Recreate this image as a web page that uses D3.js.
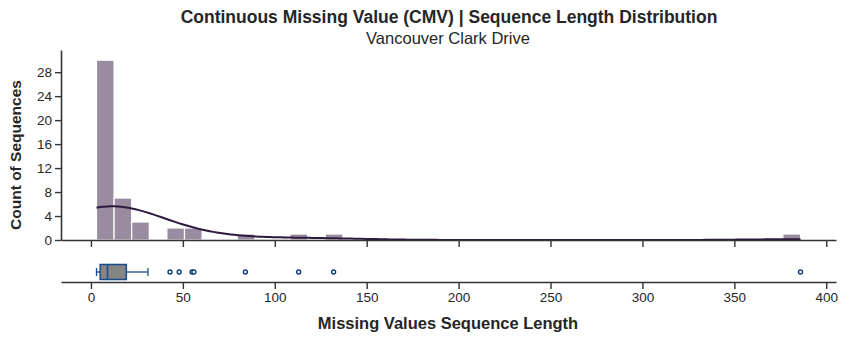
<!DOCTYPE html>
<html><head><meta charset="utf-8">
<script src="https://cdn.jsdelivr.net/npm/d3@7"></script>
<style>
body{margin:0;background:#fff;}
text{font-family:"Liberation Sans",Arial,sans-serif;fill:#262626;}
</style></head>
<body><svg id="c" width="849" height="340"></svg>
<script>
const sequenceLengths = [3,3,4,4,4,4,5,5,5,5,5,5,5,6,7,7,7,8,8,8,8,9,9,9,9,10,10,11,11,12,
  13,14,15,17,18,19,20,23,27,31,
  43,48,55,56,84,113,132,386];
const binCount = 40;
const xTicks = [0,50,100,150,200,250,300,350,400];
const yTicks = [0,4,8,12,16,20,24,28];
const titleText = "Continuous Missing Value (CMV) | Sequence Length Distribution";
const subtitleText = "Vancouver Clark Drive";
const xLabel = "Missing Values Sequence Length";
const yLabel = "Count of Sequences";

const svg = d3.select("#c");
const x = d3.scaleLinear().domain([-16.3, 405.3]).range([61, 836]);
const y = d3.scaleLinear().domain([0, 31.7]).range([240, 50]);

// histogram bins
const mn = d3.min(sequenceLengths), mx = d3.max(sequenceLengths);
const bw = (mx - mn) / binCount;
const edges = d3.range(binCount + 1).map(i => mn + i * bw);
const counts = new Array(binCount).fill(0);
sequenceLengths.forEach(v => { let k = Math.floor((v - mn) / bw); if (k >= binCount) k = binCount - 1; counts[k]++; });
const bins = counts.map((c, i) => ({x0: edges[i], x1: edges[i + 1], c}));

svg.append("g").selectAll("rect").data(bins.filter(b => b.c > 0)).join("rect")
  .attr("x", d => x(d.x0)).attr("width", d => x(d.x1) - x(d.x0))
  .attr("y", d => y(d.c)).attr("height", d => y(0) - y(d.c))
  .attr("fill", "#998ca0").attr("stroke", "#fff").attr("stroke-width", 1.2);

// KDE (Gaussian, Scott bandwidth), scaled to counts
const n = sequenceLengths.length;
const sd = d3.deviation(sequenceLengths);
const h = sd * Math.pow(n, -0.2);
const kde = t => d3.sum(sequenceLengths, v => Math.exp(-0.5 * ((t - v) / h) ** 2)) / (n * h * Math.sqrt(2 * Math.PI));
const grid = d3.range(200).map(i => mn + i * (mx - mn) / 199);
const kdePts = grid.map(t => [t, kde(t) * n * bw]);
svg.append("path").datum(kdePts)
  .attr("d", d3.line().x(d => x(d[0])).y(d => y(d[1])))
  .attr("fill", "none").attr("stroke", "#2d1a3e").attr("stroke-width", 2);

// top axes
const axColor = "#333";
const tickFont = 13.5;
const yAx = svg.append("g").attr("transform", "translate(61,0)")
  .call(d3.axisLeft(y).tickValues(yTicks).tickSize(6).tickPadding(3).tickSizeOuter(0));
const xAxTop = svg.append("g").attr("transform", "translate(0,240)")
  .call(d3.axisBottom(x).tickValues(xTicks).tickSize(7).tickFormat("").tickSizeOuter(0));
[yAx, xAxTop].forEach(g => {
  g.select(".domain").attr("stroke", axColor).attr("stroke-width", 1.6);
  g.selectAll(".tick line").attr("stroke", axColor).attr("stroke-width", 1.4);
  g.selectAll(".tick text").attr("font-size", tickFont).attr("fill", "#262626")
   .style("font-family", "Liberation Sans, Arial, sans-serif");
});

// box plot
const sorted = sequenceLengths.slice().sort(d3.ascending);
const q1 = d3.quantile(sorted, 0.25), med = d3.quantile(sorted, 0.5), q3 = d3.quantile(sorted, 0.75);
const iqr = q3 - q1;
const lo = d3.min(sorted.filter(v => v >= q1 - 1.5 * iqr));
const hi = d3.max(sorted.filter(v => v <= q3 + 1.5 * iqr));
const outliers = sorted.filter(v => v < lo || v > hi);
const cy = 272, bh = 15, blue = "#1b4d8c";
const bx = svg.append("g");
bx.append("line").attr("x1", x(lo)).attr("x2", x(q1)).attr("y1", cy).attr("y2", cy).attr("stroke", blue).attr("stroke-width", 1.3);
bx.append("line").attr("x1", x(q3)).attr("x2", x(hi)).attr("y1", cy).attr("y2", cy).attr("stroke", blue).attr("stroke-width", 1.3);
[lo, hi].forEach(v => bx.append("line").attr("x1", x(v)).attr("x2", x(v)).attr("y1", cy - 4).attr("y2", cy + 4).attr("stroke", blue).attr("stroke-width", 1.3));
bx.append("rect").attr("x", x(q1)).attr("width", x(q3) - x(q1)).attr("y", cy - bh / 2).attr("height", bh)
  .attr("fill", "#858585").attr("stroke", blue).attr("stroke-width", 1.5);
bx.append("line").attr("x1", x(med)).attr("x2", x(med)).attr("y1", cy - bh / 2).attr("y2", cy + bh / 2).attr("stroke", blue).attr("stroke-width", 1.5);
bx.selectAll("circle").data(outliers).join("circle")
  .attr("cx", d => x(d)).attr("cy", cy).attr("r", 2)
  .attr("fill", "#fff").attr("stroke", "#0d3d7a").attr("stroke-width", 1.4);

const xAxBot = svg.append("g").attr("transform", "translate(0,282)")
  .call(d3.axisBottom(x).tickValues(xTicks).tickSize(7).tickPadding(3).tickSizeOuter(0));
xAxBot.select(".domain").attr("stroke", axColor).attr("stroke-width", 1.6);
xAxBot.selectAll(".tick line").attr("stroke", axColor).attr("stroke-width", 1.4);
xAxBot.selectAll(".tick text").attr("font-size", tickFont).attr("fill", "#262626")
  .style("font-family", "Liberation Sans, Arial, sans-serif");

// labels
svg.append("text").attr("x", 448).attr("y", 329).attr("text-anchor", "middle")
  .attr("font-size", 16.5).attr("font-weight", "bold").text(xLabel);
svg.append("text").attr("transform", "translate(21,155) rotate(-90)").attr("text-anchor", "middle")
  .attr("font-size", 15.5).attr("font-weight", "bold").text(yLabel);
svg.append("text").attr("x", 449).attr("y", 23).attr("text-anchor", "middle")
  .attr("font-size", 17.5).attr("font-weight", "bold").text(titleText);
svg.append("text").attr("x", 448).attr("y", 44).attr("text-anchor", "middle")
  .attr("font-size", 16.5).text(subtitleText);
</script></body></html>
